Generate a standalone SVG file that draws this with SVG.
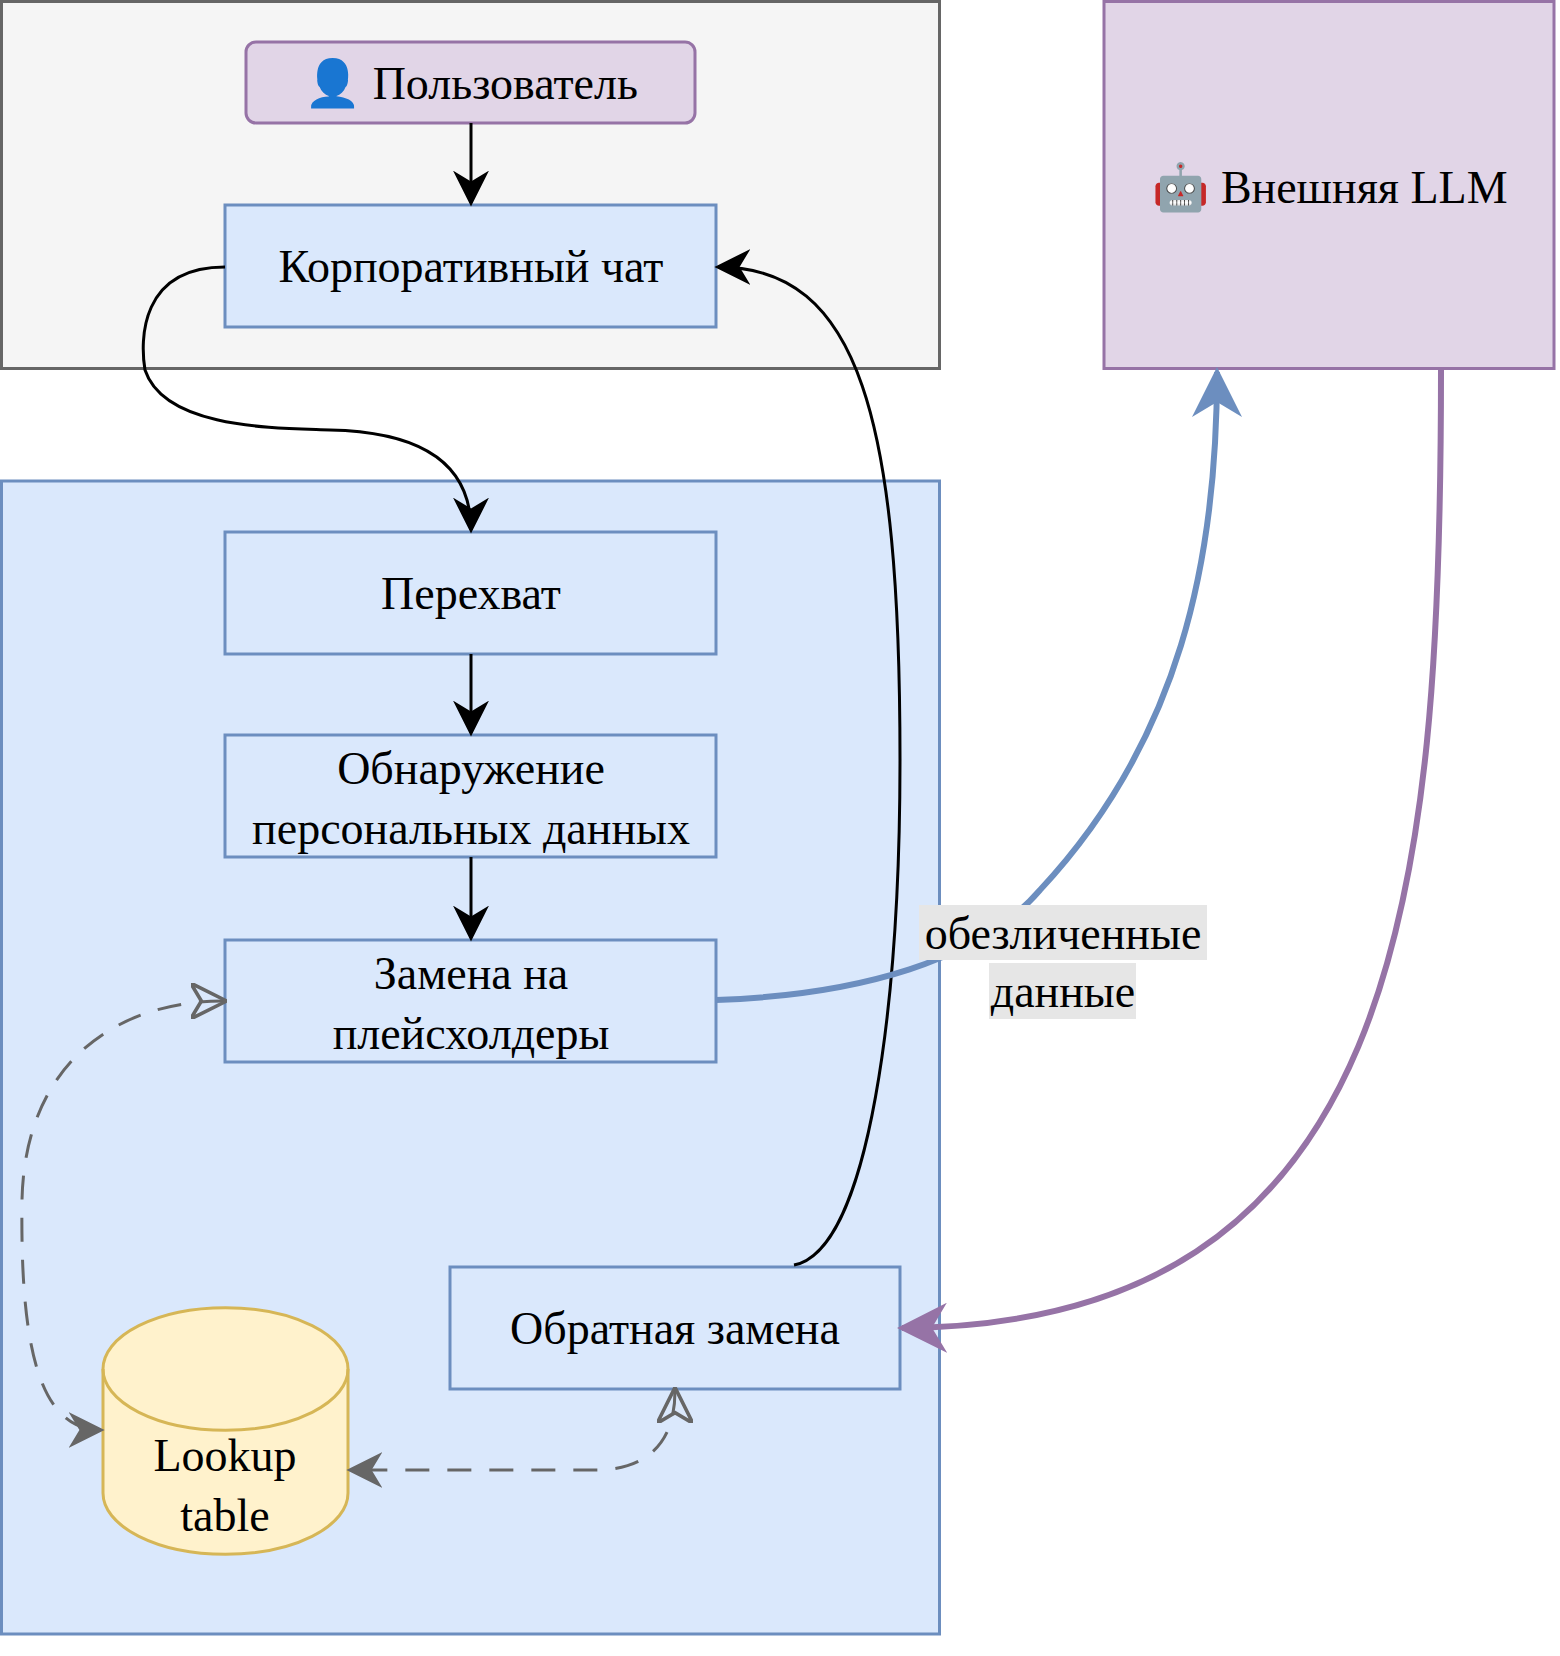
<svg xmlns="http://www.w3.org/2000/svg" width="1560" height="1656" viewBox="0 0 1560 1656">
<style>
text{font-family:"Liberation Serif","Times New Roman",serif;font-size:46px;fill:#000;text-anchor:middle}
.b{fill:#dae8fc;stroke:#6c8ebf;stroke-width:3}
.p{fill:#e1d5e7;stroke:#9673a6;stroke-width:3}
.k{fill:none;stroke:#000;stroke-width:3}
.d{fill:none;stroke:#666;stroke-width:3;stroke-dasharray:24,18}
</style>
<defs>
<marker id="ak" viewBox="0 0 10 10" refX="9" refY="5" markerWidth="36" markerHeight="36" markerUnits="userSpaceOnUse" orient="auto"><path d="M0,0 L10,5 L0,10 L3,5 Z" fill="#000"/></marker>
<marker id="abl" viewBox="0 0 10 10" refX="9" refY="5" markerWidth="50" markerHeight="50" markerUnits="userSpaceOnUse" orient="auto"><path d="M0,0 L10,5 L0,10 L3,5 Z" fill="#6c8ebf"/></marker>
<marker id="apu" viewBox="0 0 10 10" refX="9" refY="5" markerWidth="50" markerHeight="50" markerUnits="userSpaceOnUse" orient="auto"><path d="M0,0 L10,5 L0,10 L3,5 Z" fill="#9673a6"/></marker>
<marker id="ag" viewBox="0 0 10 10" refX="9" refY="5" markerWidth="36" markerHeight="36" markerUnits="userSpaceOnUse" orient="auto"><path d="M0,0 L10,5 L0,10 L3,5 Z" fill="#666"/></marker>
<marker id="ao" viewBox="0 0 10 10" refX="9" refY="5" markerWidth="36" markerHeight="36" markerUnits="userSpaceOnUse" orient="auto-start-reverse"><path d="M0,0 L10,5 L0,10 L3,5 Z" fill="none" stroke="#666" stroke-width="1"/></marker>
</defs>
<g id="containers">
<rect x="1.5" y="1.5" width="938" height="367" fill="#f5f5f5" stroke="#666" stroke-width="3"/>
<rect x="1.5" y="481" width="938" height="1153" fill="#dae8fc" stroke="#6c8ebf" stroke-width="3"/>
</g>
<g id="llm"><rect class="p" x="1104" y="1.5" width="450" height="367"/><text x="1330" y="203">🤖 Внешняя LLM</text></g>
<g id="user"><rect class="p" x="246" y="42" width="449" height="81" rx="10"/><text x="471" y="99">👤 Пользователь</text></g>
<g id="chat"><rect class="b" x="225" y="205" width="491" height="122"/><text x="471" y="282">Корпоративный чат</text></g>
<g id="intercept"><rect class="b" x="225" y="532" width="491" height="122"/><text x="471" y="609">Перехват</text></g>
<g id="detect"><rect class="b" x="225" y="735" width="491" height="122"/><text x="471" y="784">Обнаружение</text><text x="471" y="844">персональных данных</text></g>
<g id="replace"><rect class="b" x="225" y="940" width="491" height="122"/><text x="471" y="989">Замена на</text><text x="471" y="1049">плейсхолдеры</text></g>
<g id="reverse"><rect class="b" x="450" y="1267" width="450" height="122"/><text x="675" y="1344">Обратная замена</text></g>
<g id="lookup">
<path d="M103,1369 L103,1493 A122,61 0 0 0 348,1493 L348,1369 A122,61 0 0 0 103,1369 Z" fill="#fff2cc" stroke="#d6b656" stroke-width="3"/>
<path d="M103,1369 A122,61 0 0 0 348,1369" fill="none" stroke="#d6b656" stroke-width="3"/>
<text x="225" y="1471">Lookup</text><text x="225" y="1531">table</text>
</g>
<g id="connectors">
<path class="k" d="M471,123 L471,203" marker-end="url(#ak)"/>
<path class="k" d="M471,654 L471,733" marker-end="url(#ak)"/>
<path class="k" d="M471,857 L471,938" marker-end="url(#ak)"/>
<path class="k" d="M225,267 C140,267 140,340 145,370 C165,430 280,428 330,430 C430,432 471,470 471,530" marker-end="url(#ak)"/>
<path class="k" d="M794,1265 C870,1250 900,1000 900,760 C900,420 860,267 718,267" marker-end="url(#ak)"/>
<path d="M716,1000 C860,995 980,960 1040,890 C1180,740 1217,560 1217,372" fill="none" stroke="#6c8ebf" stroke-width="6" marker-end="url(#abl)"/>
<path d="M1441,370 C1441,900 1400,1325 902,1328" fill="none" stroke="#9673a6" stroke-width="6" marker-end="url(#apu)"/>
<path class="d" d="M223,1001 C120,1001 25,1060 22,1200 C20,1350 40,1430 101,1430" marker-start="url(#ao)" marker-end="url(#ag)"/>
<path class="d" d="M675,1391 C675,1440 650,1468 600,1470 L350,1470" marker-start="url(#ao)" marker-end="url(#ag)"/>
<rect x="919" y="905" width="288" height="55" fill="#e6e6e6"/>
<rect x="989" y="963" width="147" height="56" fill="#e6e6e6"/>
<text x="1063" y="949">обезличенные</text>
<text x="1063" y="1007">данные</text>
</g>
</svg>
